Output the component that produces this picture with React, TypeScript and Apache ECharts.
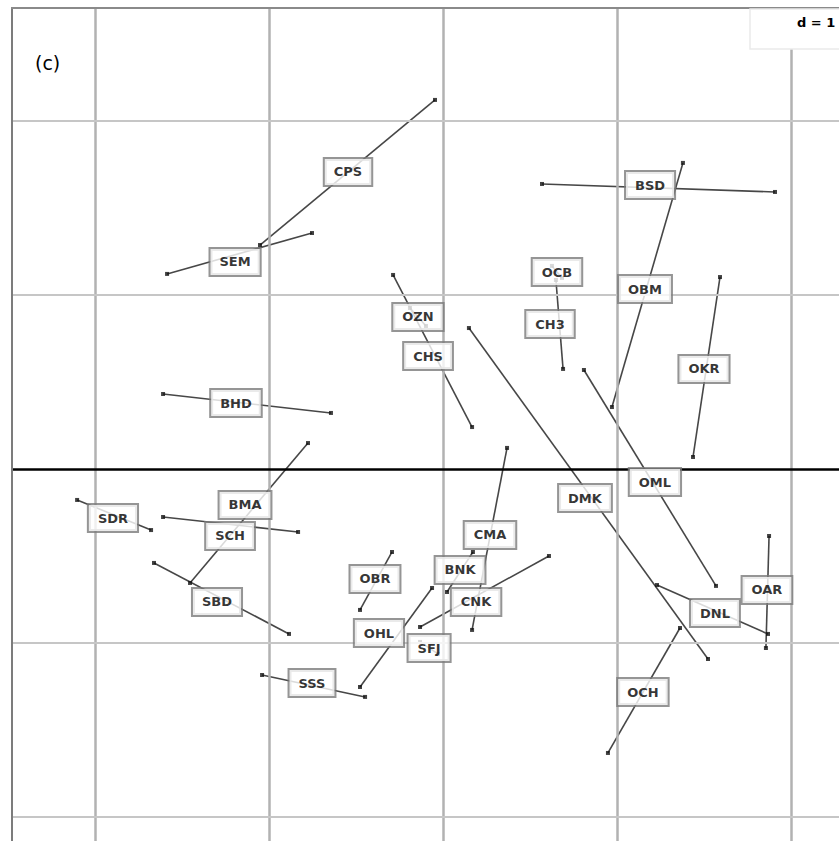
import React, { useEffect, useRef } from "react";
import * as echarts from "echarts";

// Site labels and their matched coordinates (d = 1 grid units)
const sites = ["CPS","SEM","BHD","OZN","CHS","OCB","CH3","BSD","OBM","OKR","DMK","OML","DNL","OAR","OCH","CMA","BNK","CNK","SFJ","OHL","OBR","SSS","SDR","BMA","SCH","SBD"];
const labelX = [-0.546,-1.195,-1.190,-0.144,-0.086,0.655,0.615,1.190,1.161,1.500,0.816,1.218,1.563,1.862,1.149,0.270,0.098,0.190,-0.080,-0.368,-0.391,-0.753,-1.897,-1.138,-1.224,-1.299];
const labelY = [1.707,1.190,0.379,0.874,0.649,1.132,0.833,1.632,1.034,0.575,-0.167,-0.075,-0.828,-0.695,-1.282,-0.379,-0.580,-0.764,-1.029,-0.943,-0.632,-1.230,-0.282,-0.207,-0.385,-0.764];
const startX = [-0.046,-1.586,-1.609,-0.190,-0.287,0.626,0.649,0.569,1.379,1.592,0.149,0.810,1.230,1.874,0.948,0.368,0.023,0.609,-0.132,-0.063,-0.293,-1.040,-2.103,-0.776,-1.609,-1.661];
const startY = [2.121,1.121,0.431,0.925,1.115,1.167,1.086,1.638,1.759,1.103,0.810,0.569,-0.667,-0.385,-1.632,0.121,-0.707,-0.500,-0.994,-0.684,-0.477,-1.184,-0.178,0.149,-0.276,-0.540];
const endX = [-1.052,-0.753,-0.644,-0.098,0.167,0.684,0.690,1.908,0.971,1.437,1.523,1.569,1.868,1.856,1.362,0.167,0.172,-0.132,-0.029,-0.477,-0.477,-0.448,-1.678,-1.454,-0.833,-0.885];
const endY = [1.287,1.356,0.322,0.822,0.241,1.098,0.575,1.592,0.356,0.069,-1.092,-0.672,-0.948,-1.029,-0.914,-0.925,-0.477,-0.908,-1.063,-1.253,-0.810,-1.310,-0.351,-0.655,-0.362,-0.948];

const gridXs = [-2, -1, 0, 1, 2];
const gridYs = [2, 1, -1, -2];
const xMin = -2.483, xMax = 2.276;
const yMin = -2.138, yMax = 2.655;

export default function App() {
  const ref = useRef<HTMLDivElement>(null);
  useEffect(() => {
    document.body.style.margin = "0";
    if (!ref.current) return;
    const chart = echarts.init(ref.current, undefined, { renderer: "svg" });
    const segs = sites.map((_, i) => ({ coords: [[startX[i], startY[i]], [endX[i], endY[i]]] }));
    const ends: number[][] = [];
    sites.forEach((_, i) => {
      ends.push([startX[i], startY[i]]);
      ends.push([endX[i], endY[i]]);
    });
    const labels = sites.map((s, i) => ({ name: s, value: [labelX[i], labelY[i]] }));
    chart.setOption({
      animation: false,
      grid: { left: 11, top: 7, right: 0, bottom: 0, show: false },
      xAxis: {
        type: "value", min: xMin, max: xMax,
        axisLine: { show: false }, axisTick: { show: false }, axisLabel: { show: false }, splitLine: { show: false },
      },
      yAxis: {
        type: "value", min: yMin, max: yMax,
        axisLine: { show: false }, axisTick: { show: false }, axisLabel: { show: false }, splitLine: { show: false },
      },
      series: [
        {
          type: "scatter", data: [], z: 1, silent: true,
          markLine: {
            silent: true, symbol: ["none", "none"], animation: false,
            label: { show: false },
            data: [
              ...gridXs.map((v) => ({ xAxis: v, lineStyle: { color: "#b2b2b2", width: 2.5, type: "solid" } })),
              ...gridYs.map((v) => ({ yAxis: v, lineStyle: { color: "#c6c6c6", width: 2, type: "solid" } })),
              { yAxis: 0, lineStyle: { color: "#000", width: 2.5, type: "solid" } },
              { xAxis: xMin, lineStyle: { color: "#7c7c7c", width: 2, type: "solid" } },
              { yAxis: yMax, lineStyle: { color: "#8a8a8a", width: 2, type: "solid" } },
            ],
          },
        },
        {
          type: "lines", coordinateSystem: "cartesian2d", z: 2, silent: true,
          data: segs,
          lineStyle: { color: "#474747", width: 1.6, opacity: 1 },
        },
        {
          type: "scatter", z: 3, silent: true, data: ends,
          symbol: "rect", symbolSize: 4, itemStyle: { color: "#111" },
        },
        {
          type: "scatter", z: 5, silent: true, data: labels,
          symbolSize: 1, itemStyle: { color: "transparent" },
          label: {
            show: true, position: "inside", formatter: "{b}",
            color: "#000", fontSize: 13, fontWeight: "bold", fontFamily: "DejaVu Sans",
            backgroundColor: "#fff", borderColor: "#7a7a7a", borderWidth: 2,
            padding: [7, 9, 6, 9],
          },
        },
      ],
      graphic: [
        { type: "rect", z: 100, shape: { x: 750, y: 9, width: 120, height: 40 }, style: { fill: "#fff", stroke: "#eaeaea", lineWidth: 1.5 } },
        { type: "text", z: 101, x: 797, y: 16, style: { text: "d = 1", fill: "#000", font: "bold 13px 'DejaVu Sans'" } },
        { type: "text", z: 101, x: 35, y: 53, style: { text: "(c)", fill: "#000", font: "19px 'DejaVu Sans'" } },
      ],
    });
    return () => chart.dispose();
  }, []);
  return <div ref={ref} style={{ width: 839, height: 841 }} />;
}
